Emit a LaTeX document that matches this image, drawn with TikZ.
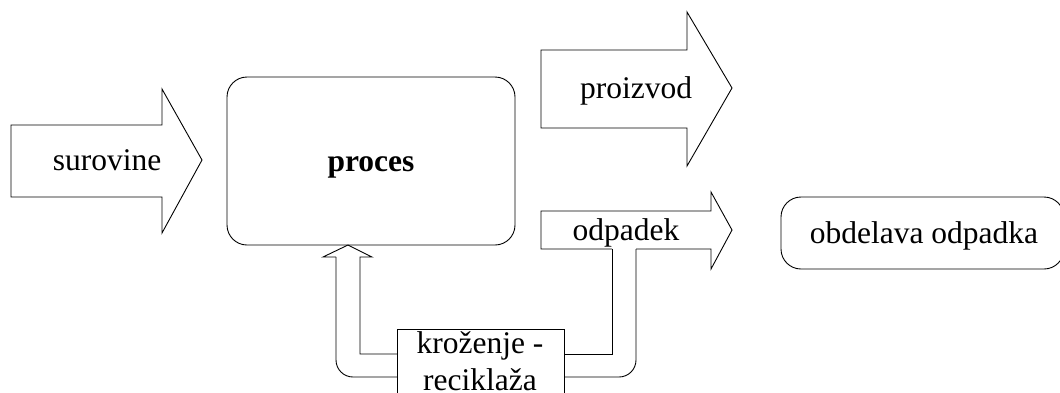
\documentclass[tikz,border=0pt]{standalone}
\usepackage{fontspec}
\setmainfont{Liberation Serif}
\begin{document}
\begin{tikzpicture}[x=1pt,y=-1pt,
  shapeline/.style={draw=black, line width=0.9pt, line join=miter},
  lbl/.style={font=\fontsize{31.5}{36}\selectfont, inner sep=0pt, anchor=base}]
\useasboundingbox (0,0) rectangle (1060,392);

% input block arrow
\draw[shapeline] (11,125) -- (162,125) -- (162,89) -- (202,160) -- (162,233)
  -- (162,197) -- (11,197) -- cycle;
\node[lbl] (surovine) at (107,170) {surovine};

% process box
\draw[shapeline, rounded corners=20pt] (227,77) rectangle (515,245);
\coordinate (procbottom) at (348,245);
\node[lbl] (proces) at (371,171) {\textbf{proces}};

% product block arrow
\draw[shapeline] (541,50) -- (687,50) -- (687,12) -- (732,88) -- (687,166)
  -- (687,128) -- (541,128) -- cycle;
\node[lbl] (proizvod) at (636,98) {proizvod};

% waste block arrow with its branch down into the loop
\draw[shapeline] (612,249) -- (541,249) -- (541,211) -- (711,211) -- (711,192)
  -- (732,230) -- (711,269) -- (711,249) -- (636,249);
\node[lbl] (odpadek) at (626,240) {odpadek};

% recycling loop: inner line
\draw[shapeline] (612,249) -- (612,354) -- (564,354);
\draw[shapeline] (397,354) -- (360,354) -- (360,257) -- (372,257) -- (procbottom)
  -- (323,257) -- (336,257);
% recycling loop: outer line
\draw[shapeline, rounded corners=17pt] (336,257) -- (336,377) -- (397,377);
\draw[shapeline, rounded corners=17pt] (564,377) -- (636,377) -- (636,249);

% recycling box
\draw[shapeline, fill=white] (397,329) rectangle (564,410);
\node[lbl] (krozenje) at (480,353) {kroženje -};
\node[lbl] (reciklaza) at (480,390) {reciklaža};

% waste treatment box
\draw[shapeline, rounded corners=20pt] (781,197) rectangle (1064,269);
\node[lbl] (obdelava) at (924,243) {obdelava odpadka};
\end{tikzpicture}
\end{document}
